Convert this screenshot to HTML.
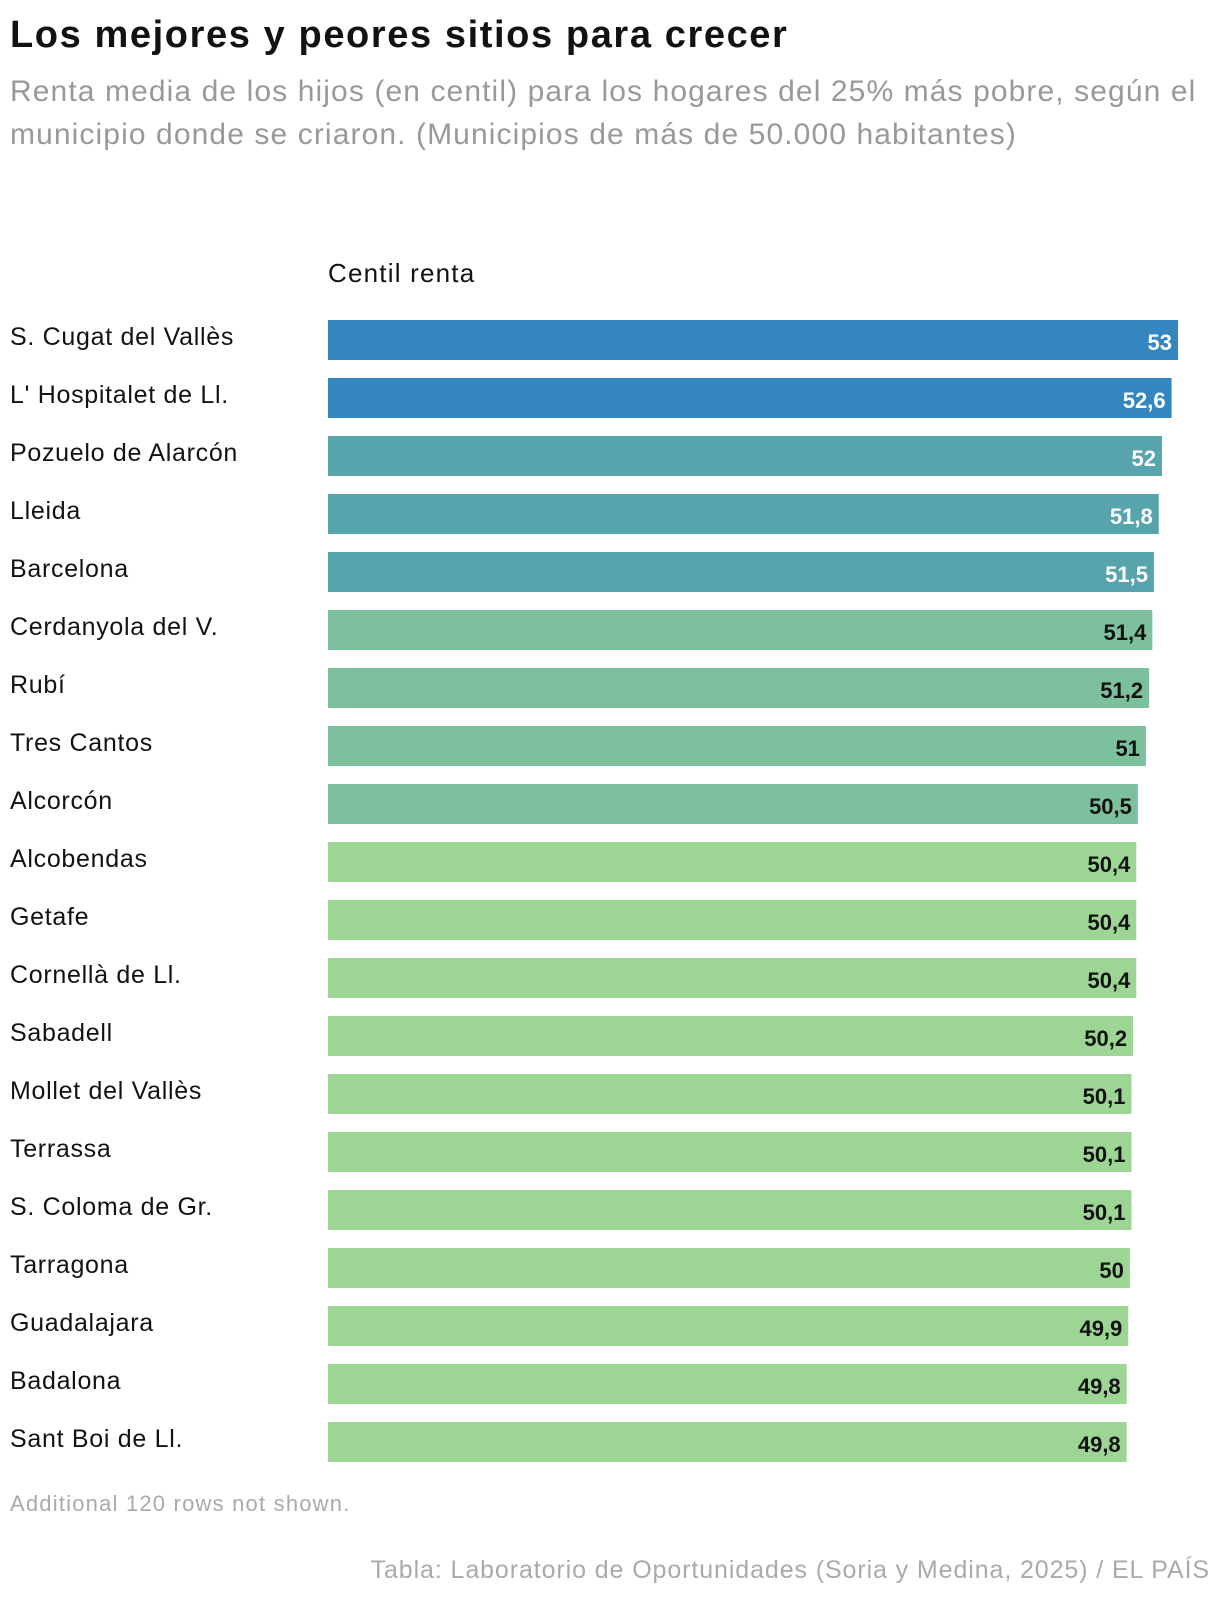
<!DOCTYPE html>
<html><head><meta charset="utf-8">
<style>
body{margin:0;background:#fff;font-family:"Liberation Sans",sans-serif;width:1220px;height:1606px;position:relative;overflow:hidden}
.t{position:absolute;white-space:nowrap}
</style></head><body>
<div class="t" style="left:10px;top:14px;font-size:38px;font-weight:bold;color:#121212;letter-spacing:1.6px">Los mejores y peores sitios para crecer</div>
<div class="t" style="left:10px;top:70px;font-size:30px;line-height:43px;color:#999;white-space:normal;width:1210px;letter-spacing:1.1px">Renta media de los hijos (en centil) para los hogares del 25% más pobre, según el municipio donde se criaron. (Municipios de más de 50.000 habitantes)</div>
<div class="t" style="left:328px;top:258px;font-size:26px;color:#121212;letter-spacing:1.2px">Centil renta</div>
<svg id="chart" width="1220" height="1606" style="position:absolute;left:0;top:0"></svg>
<div class="t" style="left:10px;top:1491px;font-size:22px;color:#aaa;letter-spacing:1.2px">Additional 120 rows not shown.</div>
<div class="t" style="right:10px;top:1556px;font-size:25px;color:#aaa;letter-spacing:0.9px">Tabla: Laboratorio de Oportunidades (Soria y Medina, 2025) / EL PAÍS</div>
<script>
const categories=["S. Cugat del Vallès","L' Hospitalet de Ll.","Pozuelo de Alarcón","Lleida","Barcelona","Cerdanyola del V.","Rubí","Tres Cantos","Alcorcón","Alcobendas","Getafe","Cornellà de Ll.","Sabadell","Mollet del Vallès","Terrassa","S. Coloma de Gr.","Tarragona","Guadalajara","Badalona","Sant Boi de Ll."];
const values=[53,52.6,52,51.8,51.5,51.4,51.2,51,50.5,50.4,50.4,50.4,50.2,50.1,50.1,50.1,50,49.9,49.8,49.8];
const labels=["53","52,6","52","51,8","51,5","51,4","51,2","51","50,5","50,4","50,4","50,4","50,2","50,1","50,1","50,1","50","49,9","49,8","49,8"];
const svg=document.getElementById('chart');const NS='http://www.w3.org/2000/svg';
const x=v=>850*v/53;const y=i=>320+58*i;
function color(v){return v>=52.5?'#3387be':v>=51.5?'#57a4ac':v>=50.5?'#7cc09e':'#9dd595';}
categories.forEach((c,i)=>{
 const v=values[i];
 const t=document.createElementNS(NS,'text');
 
 
 t.setAttribute('x',10);t.setAttribute('y',y(i)+25);t.setAttribute('font-size','25');t.setAttribute('fill','#121212');t.setAttribute('letter-spacing','0.7');
 t.textContent=c;svg.appendChild(t);
 const r=document.createElementNS(NS,'rect');
 
 
 r.setAttribute('x',328);r.setAttribute('y',y(i));r.setAttribute('width',x(v));r.setAttribute('height',40);r.setAttribute('fill',color(v));
 svg.appendChild(r);
 const l=document.createElementNS(NS,'text');
 
 
 l.setAttribute('x',328+x(v)-6);l.setAttribute('y',y(i)+30);l.setAttribute('text-anchor','end');l.setAttribute('font-size','22');l.setAttribute('font-weight','bold');
 l.setAttribute('fill',v>=51.5?'#fff':'#121212');l.textContent=labels[i];svg.appendChild(l);
});
</script>
</body></html>
